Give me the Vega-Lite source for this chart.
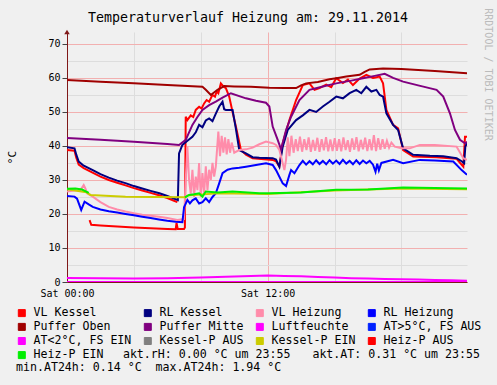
{
"$schema": "https://vega.github.io/schema/vega-lite/v6.json",
"width": 400, "height": 250,
"autosize": {"type": "none"},
"padding": {"left": 67, "top": 32, "right": 30, "bottom": 103},
"background": "#F0F0F0",
"title": {"text": "Temperaturverlauf Heizung am: 29.11.2014", "font": "DejaVu Sans Mono", "fontSize": 13.3, "fontWeight": "normal", "color": "#000000", "anchor": "middle", "frame": "group", "offset": 10, "dy": 27, "dx": -19},
"config": {"view": {"fill": "white", "stroke": null}, "font": "DejaVu Sans Mono"},
"datasets": {
"d": [
{"s":"VL Kessel","g":"a","t":0,"v":38.8},{"s":"VL Kessel","g":"a","t":0.45,"v":38.6},{"s":"VL Kessel","g":"a","t":0.55,"v":36.6},{"s":"VL Kessel","g":"a","t":0.7,"v":34.5},{"s":"VL Kessel","g":"a","t":1.0,"v":33.5},{"s":"VL Kessel","g":"a","t":1.5,"v":32.2},{"s":"VL Kessel","g":"a","t":2.0,"v":31.0},{"s":"VL Kessel","g":"a","t":2.5,"v":30.0},{"s":"VL Kessel","g":"a","t":3.0,"v":29.2},{"s":"VL Kessel","g":"a","t":3.5,"v":28.4},{"s":"VL Kessel","g":"a","t":4.0,"v":27.6},{"s":"VL Kessel","g":"a","t":4.5,"v":26.9},{"s":"VL Kessel","g":"a","t":5.0,"v":26.2},{"s":"VL Kessel","g":"a","t":5.5,"v":25.5},{"s":"VL Kessel","g":"a","t":6.0,"v":24.7},{"s":"VL Kessel","g":"a","t":6.4,"v":23.9},{"s":"VL Kessel","g":"a","t":6.6,"v":23.5},
{"s":"VL Kessel","g":"b","t":1.35,"v":18.2},{"s":"VL Kessel","g":"b","t":1.45,"v":16.8},{"s":"VL Kessel","g":"b","t":2,"v":16.6},{"s":"VL Kessel","g":"b","t":3,"v":16.3},{"s":"VL Kessel","g":"b","t":4,"v":16.0},{"s":"VL Kessel","g":"b","t":5,"v":15.8},{"s":"VL Kessel","g":"b","t":6,"v":15.6},{"s":"VL Kessel","g":"b","t":6.5,"v":15.5},{"s":"VL Kessel","g":"b","t":6.55,"v":17.4},{"s":"VL Kessel","g":"b","t":6.62,"v":15.6},{"s":"VL Kessel","g":"b","t":7.0,"v":15.6},{"s":"VL Kessel","g":"b","t":7.05,"v":16.0},{"s":"VL Kessel","g":"b","t":7.1,"v":48.6},{"s":"VL Kessel","g":"b","t":7.2,"v":47.6},{"s":"VL Kessel","g":"b","t":7.4,"v":49.0},{"s":"VL Kessel","g":"b","t":7.55,"v":48.5},{"s":"VL Kessel","g":"b","t":7.7,"v":50.6},{"s":"VL Kessel","g":"b","t":7.9,"v":51.5},{"s":"VL Kessel","g":"b","t":8.05,"v":51.0},{"s":"VL Kessel","g":"b","t":8.2,"v":52.5},{"s":"VL Kessel","g":"b","t":8.35,"v":53.5},{"s":"VL Kessel","g":"b","t":8.5,"v":53.0},{"s":"VL Kessel","g":"b","t":8.7,"v":55.0},{"s":"VL Kessel","g":"b","t":8.85,"v":54.5},{"s":"VL Kessel","g":"b","t":8.95,"v":56.0},{"s":"VL Kessel","g":"b","t":9.05,"v":55.5},{"s":"VL Kessel","g":"b","t":9.2,"v":58.4},{"s":"VL Kessel","g":"b","t":9.35,"v":57.5},{"s":"VL Kessel","g":"b","t":9.5,"v":57.0},{"s":"VL Kessel","g":"b","t":9.7,"v":54.5},{"s":"VL Kessel","g":"b","t":9.9,"v":50.0},{"s":"VL Kessel","g":"b","t":10.1,"v":45.7},{"s":"VL Kessel","g":"b","t":10.4,"v":38.8},{"s":"VL Kessel","g":"b","t":10.7,"v":37.4},{"s":"VL Kessel","g":"b","t":11.1,"v":36.4},{"s":"VL Kessel","g":"b","t":12.3,"v":35.9},{"s":"VL Kessel","g":"b","t":12.5,"v":35.5},{"s":"VL Kessel","g":"b","t":12.7,"v":33.9},{"s":"VL Kessel","g":"b","t":12.9,"v":40.8},{"s":"VL Kessel","g":"b","t":13.3,"v":47.6},{"s":"VL Kessel","g":"b","t":13.7,"v":53.5},{"s":"VL Kessel","g":"b","t":14.1,"v":57.9},{"s":"VL Kessel","g":"b","t":14.5,"v":58.4},{"s":"VL Kessel","g":"b","t":14.8,"v":56.5},{"s":"VL Kessel","g":"b","t":15.1,"v":57.0},{"s":"VL Kessel","g":"b","t":15.5,"v":58.0},{"s":"VL Kessel","g":"b","t":15.8,"v":57.3},{"s":"VL Kessel","g":"b","t":16.1,"v":59.9},{"s":"VL Kessel","g":"b","t":16.5,"v":58.5},{"s":"VL Kessel","g":"b","t":16.8,"v":59.5},{"s":"VL Kessel","g":"b","t":17.1,"v":57.9},{"s":"VL Kessel","g":"b","t":17.5,"v":59.8},{"s":"VL Kessel","g":"b","t":17.9,"v":60.9},{"s":"VL Kessel","g":"b","t":18.3,"v":60.0},{"s":"VL Kessel","g":"b","t":18.7,"v":60.4},{"s":"VL Kessel","g":"b","t":18.9,"v":58.4},{"s":"VL Kessel","g":"b","t":19.1,"v":50.6},{"s":"VL Kessel","g":"b","t":19.5,"v":46.2},{"s":"VL Kessel","g":"b","t":19.8,"v":45.2},{"s":"VL Kessel","g":"b","t":20.1,"v":38.8},{"s":"VL Kessel","g":"b","t":20.7,"v":36.9},{"s":"VL Kessel","g":"b","t":22.1,"v":36.7},{"s":"VL Kessel","g":"b","t":23.3,"v":36.2},{"s":"VL Kessel","g":"b","t":23.7,"v":33.9},{"s":"VL Kessel","g":"b","t":23.8,"v":42.7},{"s":"VL Kessel","g":"b","t":23.92,"v":42.7},
{"s":"RL Kessel","g":"a","t":0,"v":39.6},{"s":"RL Kessel","g":"a","t":0.45,"v":39.3},{"s":"RL Kessel","g":"a","t":0.55,"v":37.5},{"s":"RL Kessel","g":"a","t":0.7,"v":35.4},{"s":"RL Kessel","g":"a","t":1.0,"v":34.2},{"s":"RL Kessel","g":"a","t":1.54,"v":32.9},{"s":"RL Kessel","g":"a","t":2.0,"v":31.7},{"s":"RL Kessel","g":"a","t":2.5,"v":30.7},{"s":"RL Kessel","g":"a","t":3.0,"v":29.8},{"s":"RL Kessel","g":"a","t":3.54,"v":29.0},{"s":"RL Kessel","g":"a","t":4.0,"v":28.2},{"s":"RL Kessel","g":"a","t":4.5,"v":27.5},{"s":"RL Kessel","g":"a","t":5.0,"v":26.8},{"s":"RL Kessel","g":"a","t":5.53,"v":26.1},{"s":"RL Kessel","g":"a","t":6.0,"v":25.3},{"s":"RL Kessel","g":"a","t":6.4,"v":24.5},{"s":"RL Kessel","g":"a","t":6.63,"v":24.1},{"s":"RL Kessel","g":"a","t":6.7,"v":37.8},{"s":"RL Kessel","g":"a","t":6.9,"v":40.3},{"s":"RL Kessel","g":"a","t":7.2,"v":41.5},{"s":"RL Kessel","g":"a","t":7.5,"v":42.7},{"s":"RL Kessel","g":"a","t":7.7,"v":44.0},{"s":"RL Kessel","g":"a","t":7.9,"v":46.2},{"s":"RL Kessel","g":"a","t":8.1,"v":45.5},{"s":"RL Kessel","g":"a","t":8.3,"v":47.5},{"s":"RL Kessel","g":"a","t":8.5,"v":48.1},{"s":"RL Kessel","g":"a","t":8.7,"v":47.3},{"s":"RL Kessel","g":"a","t":8.9,"v":49.5},{"s":"RL Kessel","g":"a","t":9.1,"v":51.6},{"s":"RL Kessel","g":"a","t":9.3,"v":53.0},{"s":"RL Kessel","g":"a","t":9.4,"v":50.8},{"s":"RL Kessel","g":"a","t":9.5,"v":50.6},{"s":"RL Kessel","g":"a","t":9.9,"v":50.6},{"s":"RL Kessel","g":"a","t":10.1,"v":45.0},{"s":"RL Kessel","g":"a","t":10.3,"v":38.8},{"s":"RL Kessel","g":"a","t":10.7,"v":37.8},{"s":"RL Kessel","g":"a","t":11.1,"v":36.7},{"s":"RL Kessel","g":"a","t":11.5,"v":36.5},{"s":"RL Kessel","g":"a","t":12.3,"v":36.4},{"s":"RL Kessel","g":"a","t":12.5,"v":36.0},{"s":"RL Kessel","g":"a","t":12.7,"v":33.9},{"s":"RL Kessel","g":"a","t":12.9,"v":39.8},{"s":"RL Kessel","g":"a","t":13.2,"v":44.7},{"s":"RL Kessel","g":"a","t":13.7,"v":47.6},{"s":"RL Kessel","g":"a","t":14.1,"v":49.0},{"s":"RL Kessel","g":"a","t":14.5,"v":50.6},{"s":"RL Kessel","g":"a","t":14.9,"v":50.0},{"s":"RL Kessel","g":"a","t":15.3,"v":51.6},{"s":"RL Kessel","g":"a","t":15.7,"v":53.0},{"s":"RL Kessel","g":"a","t":16.1,"v":54.5},{"s":"RL Kessel","g":"a","t":16.5,"v":54.0},{"s":"RL Kessel","g":"a","t":16.9,"v":55.5},{"s":"RL Kessel","g":"a","t":17.3,"v":56.5},{"s":"RL Kessel","g":"a","t":17.6,"v":55.5},{"s":"RL Kessel","g":"a","t":17.9,"v":57.4},{"s":"RL Kessel","g":"a","t":18.2,"v":56.0},{"s":"RL Kessel","g":"a","t":18.5,"v":56.5},{"s":"RL Kessel","g":"a","t":18.7,"v":55.0},{"s":"RL Kessel","g":"a","t":18.9,"v":54.5},{"s":"RL Kessel","g":"a","t":19.1,"v":49.6},{"s":"RL Kessel","g":"a","t":19.5,"v":46.2},{"s":"RL Kessel","g":"a","t":19.8,"v":44.7},{"s":"RL Kessel","g":"a","t":20.1,"v":39.3},{"s":"RL Kessel","g":"a","t":20.7,"v":37.4},{"s":"RL Kessel","g":"a","t":21.7,"v":37.1},{"s":"RL Kessel","g":"a","t":22.5,"v":37.0},{"s":"RL Kessel","g":"a","t":23.3,"v":36.4},{"s":"RL Kessel","g":"a","t":23.6,"v":35.5},{"s":"RL Kessel","g":"a","t":23.75,"v":34.9},{"s":"RL Kessel","g":"a","t":23.82,"v":39.8},{"s":"RL Kessel","g":"a","t":23.92,"v":40.8},
{"s":"VL Heizung","g":"a","t":0,"v":26.6},{"s":"VL Heizung","g":"a","t":0.45,"v":26.9},{"s":"VL Heizung","g":"a","t":0.8,"v":27.0},{"s":"VL Heizung","g":"a","t":1.0,"v":28.5},{"s":"VL Heizung","g":"a","t":1.1,"v":27.5},{"s":"VL Heizung","g":"a","t":1.2,"v":26.1},{"s":"VL Heizung","g":"a","t":1.54,"v":25.1},{"s":"VL Heizung","g":"a","t":2.0,"v":23.5},{"s":"VL Heizung","g":"a","t":2.5,"v":22.1},{"s":"VL Heizung","g":"a","t":3.0,"v":21.3},{"s":"VL Heizung","g":"a","t":3.5,"v":20.7},{"s":"VL Heizung","g":"a","t":4.0,"v":20.2},{"s":"VL Heizung","g":"a","t":4.5,"v":19.8},{"s":"VL Heizung","g":"a","t":5.0,"v":19.5},{"s":"VL Heizung","g":"a","t":5.5,"v":19.2},{"s":"VL Heizung","g":"a","t":6.0,"v":18.8},{"s":"VL Heizung","g":"a","t":6.6,"v":18.2},{"s":"VL Heizung","g":"a","t":7.0,"v":18.5},{"s":"VL Heizung","g":"a","t":7.1,"v":30.0},{"s":"VL Heizung","g":"a","t":7.2,"v":39.8},{"s":"VL Heizung","g":"a","t":7.3,"v":30.0},{"s":"VL Heizung","g":"a","t":7.4,"v":26.0},{"s":"VL Heizung","g":"a","t":7.5,"v":33.0},{"s":"VL Heizung","g":"a","t":7.6,"v":25.0},{"s":"VL Heizung","g":"a","t":7.7,"v":31.0},{"s":"VL Heizung","g":"a","t":7.8,"v":27.0},{"s":"VL Heizung","g":"a","t":7.9,"v":35.0},{"s":"VL Heizung","g":"a","t":8.0,"v":25.0},{"s":"VL Heizung","g":"a","t":8.1,"v":32.0},{"s":"VL Heizung","g":"a","t":8.2,"v":26.0},{"s":"VL Heizung","g":"a","t":8.3,"v":34.0},{"s":"VL Heizung","g":"a","t":8.4,"v":27.0},{"s":"VL Heizung","g":"a","t":8.5,"v":33.0},{"s":"VL Heizung","g":"a","t":8.6,"v":30.0},{"s":"VL Heizung","g":"a","t":8.7,"v":35.0},{"s":"VL Heizung","g":"a","t":8.8,"v":31.0},{"s":"VL Heizung","g":"a","t":8.9,"v":34.0},{"s":"VL Heizung","g":"a","t":9.05,"v":44.2},{"s":"VL Heizung","g":"a","t":9.15,"v":37.0},{"s":"VL Heizung","g":"a","t":9.25,"v":43.0},{"s":"VL Heizung","g":"a","t":9.35,"v":38.0},{"s":"VL Heizung","g":"a","t":9.45,"v":42.5},{"s":"VL Heizung","g":"a","t":9.55,"v":37.5},{"s":"VL Heizung","g":"a","t":9.65,"v":42.0},{"s":"VL Heizung","g":"a","t":9.75,"v":38.0},{"s":"VL Heizung","g":"a","t":9.85,"v":41.0},{"s":"VL Heizung","g":"a","t":10.0,"v":38.0},{"s":"VL Heizung","g":"a","t":10.3,"v":38.8},{"s":"VL Heizung","g":"a","t":10.7,"v":39.0},{"s":"VL Heizung","g":"a","t":11.1,"v":39.5},{"s":"VL Heizung","g":"a","t":11.5,"v":40.5},{"s":"VL Heizung","g":"a","t":11.9,"v":41.3},{"s":"VL Heizung","g":"a","t":12.3,"v":40.8},{"s":"VL Heizung","g":"a","t":12.5,"v":40.3},{"s":"VL Heizung","g":"a","t":12.7,"v":38.8},{"s":"VL Heizung","g":"a","t":13.0,"v":32.9},{"s":"VL Heizung","g":"a","t":13.1,"v":36.0},{"s":"VL Heizung","g":"a","t":13.2,"v":42.5},{"s":"VL Heizung","g":"a","t":13.3,"v":37.0},{"s":"VL Heizung","g":"a","t":13.42,"v":43.0},{"s":"VL Heizung","g":"a","t":13.55,"v":38.0},{"s":"VL Heizung","g":"a","t":13.68,"v":42.0},{"s":"VL Heizung","g":"a","t":13.8,"v":38.5},{"s":"VL Heizung","g":"a","t":13.93,"v":42.7},{"s":"VL Heizung","g":"a","t":14.06,"v":38.3},{"s":"VL Heizung","g":"a","t":14.19,"v":42.0},{"s":"VL Heizung","g":"a","t":14.32,"v":38.8},{"s":"VL Heizung","g":"a","t":14.45,"v":42.5},{"s":"VL Heizung","g":"a","t":14.58,"v":38.3},{"s":"VL Heizung","g":"a","t":14.71,"v":41.8},{"s":"VL Heizung","g":"a","t":14.84,"v":38.6},{"s":"VL Heizung","g":"a","t":14.97,"v":42.4},{"s":"VL Heizung","g":"a","t":15.1,"v":38.3},{"s":"VL Heizung","g":"a","t":15.23,"v":42.0},{"s":"VL Heizung","g":"a","t":15.36,"v":38.7},{"s":"VL Heizung","g":"a","t":15.49,"v":42.6},{"s":"VL Heizung","g":"a","t":15.62,"v":38.4},{"s":"VL Heizung","g":"a","t":15.75,"v":41.9},{"s":"VL Heizung","g":"a","t":15.88,"v":38.5},{"s":"VL Heizung","g":"a","t":16.01,"v":42.3},{"s":"VL Heizung","g":"a","t":16.14,"v":38.6},{"s":"VL Heizung","g":"a","t":16.27,"v":42.0},{"s":"VL Heizung","g":"a","t":16.4,"v":38.4},{"s":"VL Heizung","g":"a","t":16.53,"v":42.5},{"s":"VL Heizung","g":"a","t":16.66,"v":38.8},{"s":"VL Heizung","g":"a","t":16.79,"v":41.7},{"s":"VL Heizung","g":"a","t":16.92,"v":38.3},{"s":"VL Heizung","g":"a","t":17.05,"v":42.2},{"s":"VL Heizung","g":"a","t":17.18,"v":38.9},{"s":"VL Heizung","g":"a","t":17.31,"v":42.6},{"s":"VL Heizung","g":"a","t":17.44,"v":38.4},{"s":"VL Heizung","g":"a","t":17.57,"v":41.8},{"s":"VL Heizung","g":"a","t":17.7,"v":39.0},{"s":"VL Heizung","g":"a","t":17.83,"v":42.4},{"s":"VL Heizung","g":"a","t":17.96,"v":38.5},{"s":"VL Heizung","g":"a","t":18.09,"v":42.0},{"s":"VL Heizung","g":"a","t":18.22,"v":38.7},{"s":"VL Heizung","g":"a","t":18.35,"v":43.2},{"s":"VL Heizung","g":"a","t":18.48,"v":38.5},{"s":"VL Heizung","g":"a","t":18.61,"v":42.3},{"s":"VL Heizung","g":"a","t":18.74,"v":38.9},{"s":"VL Heizung","g":"a","t":18.87,"v":42.0},{"s":"VL Heizung","g":"a","t":19.0,"v":39.2},{"s":"VL Heizung","g":"a","t":19.13,"v":41.5},{"s":"VL Heizung","g":"a","t":19.26,"v":39.5},{"s":"VL Heizung","g":"a","t":19.4,"v":41.0},{"s":"VL Heizung","g":"a","t":19.6,"v":39.8},{"s":"VL Heizung","g":"a","t":20.0,"v":39.3},{"s":"VL Heizung","g":"a","t":20.5,"v":39.3},{"s":"VL Heizung","g":"a","t":21.1,"v":40.3},{"s":"VL Heizung","g":"a","t":22.0,"v":40.3},{"s":"VL Heizung","g":"a","t":23.3,"v":39.8},{"s":"VL Heizung","g":"a","t":23.7,"v":36.4},{"s":"VL Heizung","g":"a","t":23.92,"v":35.9},
{"s":"RL Heizung","g":"a","t":0,"v":25.3},{"s":"RL Heizung","g":"a","t":0.45,"v":25.1},{"s":"RL Heizung","g":"a","t":0.6,"v":24.5},{"s":"RL Heizung","g":"a","t":0.85,"v":21.2},{"s":"RL Heizung","g":"a","t":1.05,"v":23.6},{"s":"RL Heizung","g":"a","t":1.3,"v":22.8},{"s":"RL Heizung","g":"a","t":1.54,"v":22.1},{"s":"RL Heizung","g":"a","t":2.0,"v":21.3},{"s":"RL Heizung","g":"a","t":2.5,"v":20.8},{"s":"RL Heizung","g":"a","t":3.0,"v":20.4},{"s":"RL Heizung","g":"a","t":3.5,"v":20.0},{"s":"RL Heizung","g":"a","t":4.0,"v":19.6},{"s":"RL Heizung","g":"a","t":4.5,"v":19.2},{"s":"RL Heizung","g":"a","t":5.0,"v":18.8},{"s":"RL Heizung","g":"a","t":5.5,"v":18.4},{"s":"RL Heizung","g":"a","t":6.0,"v":18.0},{"s":"RL Heizung","g":"a","t":6.5,"v":17.7},{"s":"RL Heizung","g":"a","t":6.9,"v":17.6},{"s":"RL Heizung","g":"a","t":7.0,"v":22.0},{"s":"RL Heizung","g":"a","t":7.2,"v":24.1},{"s":"RL Heizung","g":"a","t":7.35,"v":23.1},{"s":"RL Heizung","g":"a","t":7.5,"v":24.0},{"s":"RL Heizung","g":"a","t":7.7,"v":24.6},{"s":"RL Heizung","g":"a","t":7.9,"v":23.1},{"s":"RL Heizung","g":"a","t":8.1,"v":23.5},{"s":"RL Heizung","g":"a","t":8.3,"v":24.6},{"s":"RL Heizung","g":"a","t":8.5,"v":23.5},{"s":"RL Heizung","g":"a","t":8.7,"v":25.0},{"s":"RL Heizung","g":"a","t":8.9,"v":26.1},{"s":"RL Heizung","g":"a","t":9.1,"v":29.0},{"s":"RL Heizung","g":"a","t":9.3,"v":32.0},{"s":"RL Heizung","g":"a","t":9.6,"v":33.0},{"s":"RL Heizung","g":"a","t":9.9,"v":33.4},{"s":"RL Heizung","g":"a","t":10.3,"v":33.6},{"s":"RL Heizung","g":"a","t":10.7,"v":33.9},{"s":"RL Heizung","g":"a","t":11.3,"v":34.4},{"s":"RL Heizung","g":"a","t":11.9,"v":34.9},{"s":"RL Heizung","g":"a","t":12.3,"v":34.4},{"s":"RL Heizung","g":"a","t":12.5,"v":32.9},{"s":"RL Heizung","g":"a","t":12.9,"v":29.0},{"s":"RL Heizung","g":"a","t":13.1,"v":28.2},{"s":"RL Heizung","g":"a","t":13.3,"v":31.5},{"s":"RL Heizung","g":"a","t":13.4,"v":32.9},{"s":"RL Heizung","g":"a","t":13.6,"v":32.0},{"s":"RL Heizung","g":"a","t":13.9,"v":34.4},{"s":"RL Heizung","g":"a","t":14.1,"v":35.6},{"s":"RL Heizung","g":"a","t":14.3,"v":34.5},{"s":"RL Heizung","g":"a","t":14.5,"v":35.5},{"s":"RL Heizung","g":"a","t":14.7,"v":34.6},{"s":"RL Heizung","g":"a","t":14.9,"v":35.8},{"s":"RL Heizung","g":"a","t":15.1,"v":34.7},{"s":"RL Heizung","g":"a","t":15.3,"v":35.6},{"s":"RL Heizung","g":"a","t":15.5,"v":34.6},{"s":"RL Heizung","g":"a","t":15.7,"v":35.8},{"s":"RL Heizung","g":"a","t":15.9,"v":34.8},{"s":"RL Heizung","g":"a","t":16.1,"v":35.7},{"s":"RL Heizung","g":"a","t":16.3,"v":34.7},{"s":"RL Heizung","g":"a","t":16.5,"v":35.9},{"s":"RL Heizung","g":"a","t":16.7,"v":34.8},{"s":"RL Heizung","g":"a","t":16.9,"v":35.6},{"s":"RL Heizung","g":"a","t":17.1,"v":34.6},{"s":"RL Heizung","g":"a","t":17.3,"v":35.8},{"s":"RL Heizung","g":"a","t":17.5,"v":34.7},{"s":"RL Heizung","g":"a","t":17.7,"v":35.7},{"s":"RL Heizung","g":"a","t":17.9,"v":34.9},{"s":"RL Heizung","g":"a","t":18.1,"v":35.6},{"s":"RL Heizung","g":"a","t":18.3,"v":34.5},{"s":"RL Heizung","g":"a","t":18.45,"v":32.4},{"s":"RL Heizung","g":"a","t":18.55,"v":34.8},{"s":"RL Heizung","g":"a","t":18.65,"v":32.8},{"s":"RL Heizung","g":"a","t":18.8,"v":35.0},{"s":"RL Heizung","g":"a","t":19.5,"v":35.9},{"s":"RL Heizung","g":"a","t":20.1,"v":34.9},{"s":"RL Heizung","g":"a","t":21.1,"v":35.9},{"s":"RL Heizung","g":"a","t":22.0,"v":35.7},{"s":"RL Heizung","g":"a","t":23.1,"v":35.4},{"s":"RL Heizung","g":"a","t":23.6,"v":32.9},{"s":"RL Heizung","g":"a","t":23.92,"v":31.5},
{"s":"Puffer Oben","g":"a","t":0,"v":59.4},{"s":"Puffer Oben","g":"a","t":2,"v":58.9},{"s":"Puffer Oben","g":"a","t":4,"v":58.4},{"s":"Puffer Oben","g":"a","t":6,"v":57.9},{"s":"Puffer Oben","g":"a","t":8.1,"v":57.4},{"s":"Puffer Oben","g":"a","t":8.3,"v":56.5},{"s":"Puffer Oben","g":"a","t":8.6,"v":55.0},{"s":"Puffer Oben","g":"a","t":9.0,"v":56.5},{"s":"Puffer Oben","g":"a","t":9.4,"v":57.6},{"s":"Puffer Oben","g":"a","t":10,"v":57.5},{"s":"Puffer Oben","g":"a","t":11,"v":57.4},{"s":"Puffer Oben","g":"a","t":12.1,"v":57.1},{"s":"Puffer Oben","g":"a","t":13.0,"v":57.0},{"s":"Puffer Oben","g":"a","t":13.7,"v":57.0},{"s":"Puffer Oben","g":"a","t":14.0,"v":57.8},{"s":"Puffer Oben","g":"a","t":14.3,"v":58.4},{"s":"Puffer Oben","g":"a","t":15.0,"v":58.8},{"s":"Puffer Oben","g":"a","t":15.7,"v":59.6},{"s":"Puffer Oben","g":"a","t":16.2,"v":60.0},{"s":"Puffer Oben","g":"a","t":16.7,"v":60.4},{"s":"Puffer Oben","g":"a","t":17.5,"v":60.9},{"s":"Puffer Oben","g":"a","t":17.8,"v":61.8},{"s":"Puffer Oben","g":"a","t":18.1,"v":62.5},{"s":"Puffer Oben","g":"a","t":18.9,"v":62.8},{"s":"Puffer Oben","g":"a","t":20,"v":62.6},{"s":"Puffer Oben","g":"a","t":22,"v":62.0},{"s":"Puffer Oben","g":"a","t":23.92,"v":61.4},
{"s":"Puffer Mitte","g":"a","t":0,"v":42.3},{"s":"Puffer Mitte","g":"a","t":2,"v":41.8},{"s":"Puffer Mitte","g":"a","t":4,"v":41.2},{"s":"Puffer Mitte","g":"a","t":6,"v":40.6},{"s":"Puffer Mitte","g":"a","t":6.7,"v":40.3},{"s":"Puffer Mitte","g":"a","t":7.1,"v":41.8},{"s":"Puffer Mitte","g":"a","t":7.3,"v":44.0},{"s":"Puffer Mitte","g":"a","t":7.5,"v":46.2},{"s":"Puffer Mitte","g":"a","t":7.8,"v":48.5},{"s":"Puffer Mitte","g":"a","t":8.1,"v":50.6},{"s":"Puffer Mitte","g":"a","t":8.5,"v":52.0},{"s":"Puffer Mitte","g":"a","t":8.9,"v":53.0},{"s":"Puffer Mitte","g":"a","t":9.3,"v":54.2},{"s":"Puffer Mitte","g":"a","t":9.8,"v":55.5},{"s":"Puffer Mitte","g":"a","t":10.7,"v":54.0},{"s":"Puffer Mitte","g":"a","t":11.3,"v":53.3},{"s":"Puffer Mitte","g":"a","t":11.9,"v":52.7},{"s":"Puffer Mitte","g":"a","t":12.1,"v":51.6},{"s":"Puffer Mitte","g":"a","t":12.3,"v":45.7},{"s":"Puffer Mitte","g":"a","t":12.6,"v":41.8},{"s":"Puffer Mitte","g":"a","t":12.8,"v":39.0},{"s":"Puffer Mitte","g":"a","t":13.1,"v":44.7},{"s":"Puffer Mitte","g":"a","t":13.4,"v":48.6},{"s":"Puffer Mitte","g":"a","t":13.9,"v":53.5},{"s":"Puffer Mitte","g":"a","t":14.5,"v":56.5},{"s":"Puffer Mitte","g":"a","t":15.3,"v":57.5},{"s":"Puffer Mitte","g":"a","t":16.1,"v":58.4},{"s":"Puffer Mitte","g":"a","t":17.0,"v":59.2},{"s":"Puffer Mitte","g":"a","t":17.7,"v":59.9},{"s":"Puffer Mitte","g":"a","t":18.4,"v":60.6},{"s":"Puffer Mitte","g":"a","t":19.0,"v":61.2},{"s":"Puffer Mitte","g":"a","t":19.5,"v":60.0},{"s":"Puffer Mitte","g":"a","t":20.1,"v":58.9},{"s":"Puffer Mitte","g":"a","t":21.0,"v":57.8},{"s":"Puffer Mitte","g":"a","t":22.1,"v":56.5},{"s":"Puffer Mitte","g":"a","t":22.5,"v":54.5},{"s":"Puffer Mitte","g":"a","t":22.9,"v":49.6},{"s":"Puffer Mitte","g":"a","t":23.2,"v":44.7},{"s":"Puffer Mitte","g":"a","t":23.5,"v":41.8},{"s":"Puffer Mitte","g":"a","t":23.8,"v":40.8},{"s":"Puffer Mitte","g":"a","t":23.92,"v":41.2},
{"s":"Luftfeuchte","g":"a","t":0,"v":0},{"s":"Luftfeuchte","g":"a","t":23.92,"v":0},
{"s":"AT<2°C, FS EIN","g":"a","t":0,"v":1.2},{"s":"AT<2°C, FS EIN","g":"a","t":2,"v":1.1},{"s":"AT<2°C, FS EIN","g":"a","t":4,"v":1.0},{"s":"AT<2°C, FS EIN","g":"a","t":6,"v":1.1},{"s":"AT<2°C, FS EIN","g":"a","t":8,"v":1.3},{"s":"AT<2°C, FS EIN","g":"a","t":10,"v":1.6},{"s":"AT<2°C, FS EIN","g":"a","t":11,"v":1.8},{"s":"AT<2°C, FS EIN","g":"a","t":12,"v":1.9},{"s":"AT<2°C, FS EIN","g":"a","t":13,"v":1.8},{"s":"AT<2°C, FS EIN","g":"a","t":14,"v":1.7},{"s":"AT<2°C, FS EIN","g":"a","t":15,"v":1.5},{"s":"AT<2°C, FS EIN","g":"a","t":16,"v":1.3},{"s":"AT<2°C, FS EIN","g":"a","t":17,"v":1.1},{"s":"AT<2°C, FS EIN","g":"a","t":18,"v":1.0},{"s":"AT<2°C, FS EIN","g":"a","t":19,"v":0.9},{"s":"AT<2°C, FS EIN","g":"a","t":20,"v":0.8},{"s":"AT<2°C, FS EIN","g":"a","t":21,"v":0.7},{"s":"AT<2°C, FS EIN","g":"a","t":22,"v":0.6},{"s":"AT<2°C, FS EIN","g":"a","t":23,"v":0.5},{"s":"AT<2°C, FS EIN","g":"a","t":23.92,"v":0.4},
{"s":"Kessel-P EIN","g":"a","t":0,"v":27.3},{"s":"Kessel-P EIN","g":"a","t":1.15,"v":26.4},{"s":"Kessel-P EIN","g":"a","t":1.4,"v":25.6},{"s":"Kessel-P EIN","g":"a","t":3.5,"v":25.1},{"s":"Kessel-P EIN","g":"a","t":7.1,"v":24.9},{"s":"Kessel-P EIN","g":"a","t":7.2,"v":25.4},{"s":"Kessel-P EIN","g":"a","t":9,"v":26.1},{"s":"Kessel-P EIN","g":"a","t":12,"v":25.9},{"s":"Kessel-P EIN","g":"a","t":16,"v":26.9},{"s":"Kessel-P EIN","g":"a","t":20,"v":27.5},{"s":"Kessel-P EIN","g":"a","t":23.92,"v":27.3},
{"s":"Heiz-P EIN","g":"a","t":0,"v":27.4},{"s":"Heiz-P EIN","g":"a","t":0.5,"v":27.5},{"s":"Heiz-P EIN","g":"a","t":0.9,"v":27.2},{"s":"Heiz-P EIN","g":"a","t":1.15,"v":26.6},{"s":"Heiz-P EIN","g":"a","t":1.3,"v":26.2},
{"s":"Heiz-P EIN","g":"b","t":7.05,"v":24.9},{"s":"Heiz-P EIN","g":"b","t":7.3,"v":25.6},{"s":"Heiz-P EIN","g":"b","t":7.6,"v":25.8},{"s":"Heiz-P EIN","g":"b","t":7.9,"v":26.1},{"s":"Heiz-P EIN","g":"b","t":8.1,"v":25.1},{"s":"Heiz-P EIN","g":"b","t":8.3,"v":26.6},{"s":"Heiz-P EIN","g":"b","t":9.0,"v":26.3},{"s":"Heiz-P EIN","g":"b","t":9.9,"v":26.6},{"s":"Heiz-P EIN","g":"b","t":11.5,"v":26.1},{"s":"Heiz-P EIN","g":"b","t":12.1,"v":26.1},{"s":"Heiz-P EIN","g":"b","t":14.0,"v":26.3},{"s":"Heiz-P EIN","g":"b","t":16.1,"v":27.1},{"s":"Heiz-P EIN","g":"b","t":18.0,"v":27.2},{"s":"Heiz-P EIN","g":"b","t":20.1,"v":27.8},{"s":"Heiz-P EIN","g":"b","t":22.0,"v":27.6},{"s":"Heiz-P EIN","g":"b","t":23.92,"v":27.5}
]
},
"layer": [
{
"data": {"name": "d"},
"mark": {"type": "line", "strokeWidth": 2, "clip": true},
"encoding": {
"x": {"field": "t", "type": "quantitative", "scale": {"domain": [0, 23.92], "nice": false, "zero": false},
 "axis": {"values": [0,1,2,3,4,5,6,7,8,9,10,11,12,13,14,15,16,17,18,19,20,21,22,23], "labelExpr": "datum.value === 0 ? 'Sat 00:00' : (datum.value === 12 ? 'Sat 12:00' : '')", "title": null, "ticks": false, "labelFont": "DejaVu Sans Mono", "labelFontSize": 10, "labelColor": "#000000", "labelPadding": 6, "labelOverlap": false, "labelFlush": false, "labelBound": false, "domainColor": "#801818", "domainWidth": 1, "grid": true, "gridWidth": 1, "gridColor": {"condition": {"test": "datum.value % 6 === 0", "value": "#F2B0B0"}, "value": "#DDDDDD"}}},
"y": {"field": "v", "type": "quantitative", "scale": {"domain": [0, 73.5], "nice": false},
 "axis": {"values": [0,5,10,15,20,25,30,35,40,45,50,55,60,65,70], "labelExpr": "datum.value % 10 === 0 ? datum.label : ''", "title": "°C", "titleFont": "DejaVu Sans Mono", "titleFontSize": 11, "titleFontWeight": "normal", "titleColor": "#000000", "titlePadding": 30, "labelFont": "DejaVu Sans Mono", "labelFontSize": 10, "labelColor": "#000000", "labelPadding": 2, "tickSize": 5, "tickColor": "#444444", "tickOpacity": {"condition": {"test": "datum.value % 10 === 0", "value": 1}, "value": 0}, "domainColor": "#801818", "domainWidth": 1, "grid": true, "gridWidth": 1, "gridColor": {"condition": {"test": "datum.value % 10 === 0", "value": "#F2B0B0"}, "value": "#DDDDDD"}}},
"color": {"field": "s", "type": "nominal",
 "scale": {"domain": ["VL Kessel","RL Kessel","VL Heizung","RL Heizung","Puffer Oben","Puffer Mitte","Luftfeuchte","AT>5°C, FS AUS","AT<2°C, FS EIN","Kessel-P AUS","Kessel-P EIN","Heiz-P AUS","Heiz-P EIN"],
  "range": ["#FF0000","#000080","#FF8CAA","#0000FF","#A00000","#800080","#FF00FF","#0022FF","#FF00FF","#808080","#CCCC00","#FF0000","#00EE00"]},
 "legend": {"orient": "none", "direction": "horizontal", "legendX": -51, "legendY": 275, "columns": 4, "gridAlign": "each", "columnPadding": 10, "rowPadding": 1.1, "padding": 0,
  "symbolType": "square", "symbolSize": 49, "symbolStrokeWidth": 1, "symbolStrokeColor": "#000000", "labelOffset": 6,
  "labelFont": "DejaVu Sans Mono", "labelFontSize": 11.6, "labelColor": "#000000", "labelLimit": 0,
  "title": "min.AT24h:\u00a00.14\u00a0°C\u00a0\u00a0max.AT24h:\u00a01.94\u00a0°C", "titleOrient": "bottom", "titleAnchor": "start", "titleFont": "DejaVu Sans Mono", "titleFontSize": 11.6, "titleFontWeight": "normal", "titleColor": "#000000", "titlePadding": 1.1, "titleLimit": 0,
  "encode": {"symbols": {"update": {"fill": {"scale": "color", "field": "value"}, "stroke": {"value": "#000000"}, "strokeWidth": {"value": 1}, "opacity": {"value": 1}}}}}},
"detail": {"field": "g"}
}
},
{
"data": {"values": [{"k": "akt.rH: 0.00 °C um 23:55"}, {"k": "akt.AT: 0.31 °C um 23:55"}]},
"mark": {"type": "point", "opacity": 0},
"encoding": {
"shape": {"field": "k", "type": "nominal", "scale": {"domain": ["akt.rH: 0.00 °C um 23:55", "akt.AT: 0.31 °C um 23:55"], "range": ["circle", "circle"]},
 "legend": {"orient": "none", "direction": "horizontal", "columns": 2, "gridAlign": "each", "legendX": 44.3, "legendY": 317, "title": null, "padding": 0, "symbolSize": 0, "symbolOpacity": 0, "symbolStrokeWidth": 0, "labelOffset": 0, "columnPadding": 9.5, "labelFont": "DejaVu Sans Mono", "labelFontSize": 11.6, "labelColor": "#000000", "labelLimit": 0}}
}
},
{
"data": {"values": [{}]},
"mark": {"type": "point", "shape": "triangle-up", "filled": true, "color": "#801818", "size": 30, "opacity": 1},
"encoding": {
"x": {"datum": 0, "type": "quantitative"},
"y": {"datum": 73.5, "type": "quantitative", "axis": {"orient": "right", "title": "RRDTOOL / TOBI OETIKER", "labels": false, "ticks": false, "domain": false, "grid": false, "titleFont": "DejaVu Sans Mono", "titleFontSize": 10, "titleFontWeight": "normal", "titleColor": "#BBBBBB", "titlePadding": 15, "titleY": 42, "titleAlign": "center"}}
}
}
],
"resolve": {"axis": {"y": "independent"}}
}
